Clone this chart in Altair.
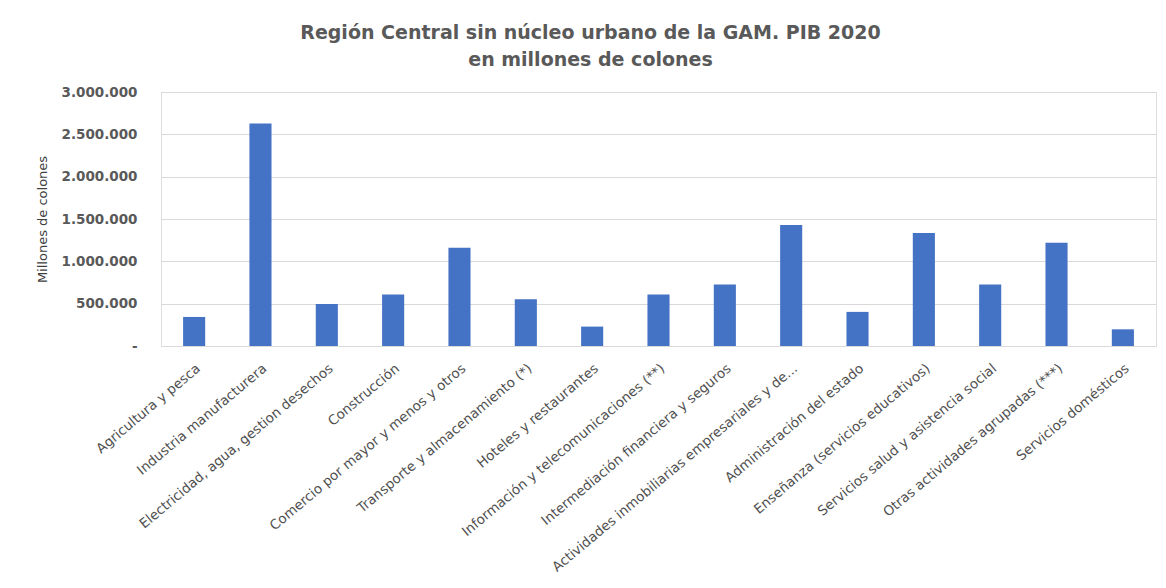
import altair as alt
import pandas as pd

categories = [
    "Agricultura y pesca",
    "Industria manufacturera",
    "Electricidad, agua, gestion desechos",
    "Construcción",
    "Comercio por mayor y menos y otros",
    "Transporte y almacenamiento (*)",
    "Hoteles y restaurantes",
    "Información y telecomunicaciones (**)",
    "Intermediación financiera y seguros",
    "Actividades inmobiliarias empresariales y de...",
    "Administración del estado",
    "Enseñanza (servicios educativos)",
    "Servicios salud y asistencia social",
    "Otras actividades agrupadas (***)",
    "Servicios domésticos",
]
values = [343000, 2629000, 497000, 608000, 1161000, 553000, 229000, 608000,
          726000, 1429000, 403000, 1334000, 726000, 1220000, 197000]
y_ticks = [0, 500000, 1000000, 1500000, 2000000, 2500000, 3000000]

df = pd.DataFrame({"cat": categories, "val": values})

FONT = "DejaVu Sans"
GRAY = "#595959"

chart = (
    alt.Chart(df)
    .mark_bar(color="#4472C4")
    .encode(
        x=alt.X(
            "cat:N",
            sort=categories,
            title=None,
            scale=alt.Scale(paddingInner=0.667, paddingOuter=0.333),
            axis=alt.Axis(
                labelAngle=-40,
                labelFont=FONT,
                labelFontSize=13.5,
                labelColor="#505050",
                labelLimit=600,
                labelPadding=15,
                labelOffset=0,
                ticks=False,
                domainColor="#d9d9d9",
                domainWidth=1,
            ),
        ),
        y=alt.Y(
            "val:Q",
            title="Millones de colones",
            scale=alt.Scale(domain=[0, 3000000], nice=False),
            axis=alt.Axis(
                values=y_ticks,
                labelExpr="datum.value == 0 ? '-' : replace(format(datum.value, ',.0f'), regexp(',', 'g'), '.')",
                labelFont=FONT,
                labelFontSize=13.5,
                labelFontWeight="bold",
                labelColor=GRAY,
                labelPadding=24,
                ticks=False,
                domain=False,
                gridColor="#d9d9d9",
                titleFont=FONT,
                titleFontSize=13,
                titleFontWeight="normal",
                titleColor="#404040",
                titlePadding=11,
            ),
        ),
    )
    .properties(
        width=995,
        height=254,
        autosize=alt.AutoSizeParams(type="none"),
        padding={"left": 153, "top": 84, "right": 2, "bottom": 234},
        title=alt.TitleParams(
            text=["Región Central sin núcleo urbano  de la GAM. PIB 2020", "en millones de colones"],
            font=FONT,
            fontSize=19,
            fontWeight="bold",
            color=GRAY,
            lineHeight=27,
            anchor="middle",
            dx=-68,
            offset=15,
        ),
    )
    .configure_view(stroke=None)
    .configure(background="white")
)

chart.save("out.html", embed_options={"renderer": "svg", "actions": False})
